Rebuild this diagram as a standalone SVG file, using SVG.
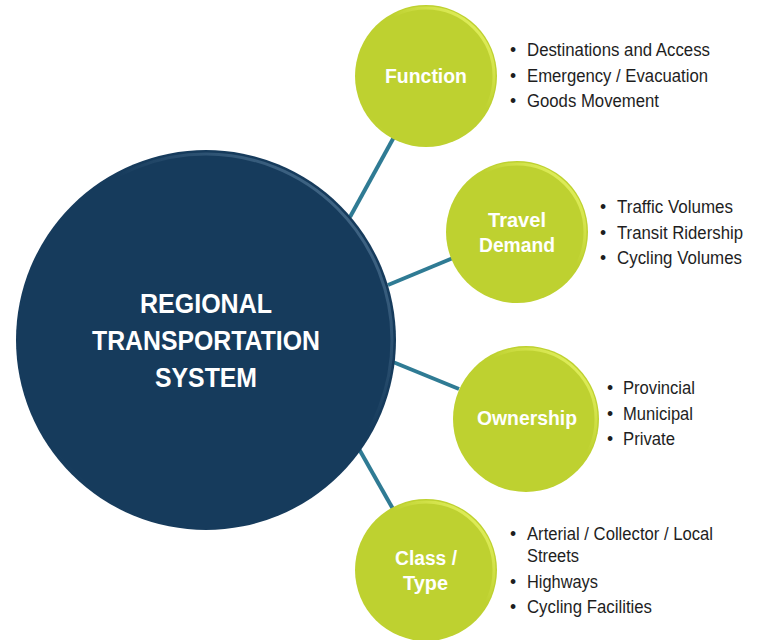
<svg xmlns="http://www.w3.org/2000/svg" width="757" height="640" viewBox="0 0 757 640">
<defs>
<linearGradient id="rimG" x1="1" y1="0" x2="0" y2="1">
<stop offset="0" stop-color="#f4ff74" stop-opacity="0.9"/>
<stop offset="0.4" stop-color="#f4ff74" stop-opacity="0"/>
<stop offset="0.85" stop-color="#f4ff74" stop-opacity="0"/>
<stop offset="1" stop-color="#e8f77a" stop-opacity="0.45"/>
</linearGradient>
<linearGradient id="rimB" x1="1" y1="0" x2="0" y2="1">
<stop offset="0" stop-color="#6a8fae" stop-opacity="0.75"/>
<stop offset="0.4" stop-color="#6a8fae" stop-opacity="0"/>
<stop offset="0.85" stop-color="#6a8fae" stop-opacity="0"/>
<stop offset="1" stop-color="#6a8fae" stop-opacity="0.4"/>
</linearGradient>
</defs>
<style>
.conn{stroke:#2f7b94;stroke-width:4;fill:none;stroke-linecap:butt}
.green{fill:#bed130}
.grim{fill:none;stroke:url(#rimG);stroke-width:3}
.navy{fill:#163b5c}
.nrim{fill:none;stroke:url(#rimB);stroke-width:3}
.lbl{font-family:"Liberation Sans",Arial,sans-serif;font-weight:bold;font-size:20px;fill:#ffffff}
.main{font-family:"Liberation Sans",Arial,sans-serif;font-weight:bold;font-size:27px;fill:#ffffff}
.li{font-family:"Liberation Sans",Arial,sans-serif;font-size:17.5px;fill:#1e1e1e}
</style>
<rect width="757" height="640" fill="#ffffff"/>
<g id="connectors">
<line class="conn" x1="350" y1="217" x2="394" y2="137"/>
<line class="conn" x1="388" y1="285" x2="453" y2="258"/>
<line class="conn" x1="393" y1="362" x2="459" y2="389"/>
<line class="conn" x1="359" y1="449" x2="393" y2="509"/>
</g>
<g id="node-main">
<circle class="navy" cx="206" cy="340" r="190"/>
<circle class="nrim" cx="206" cy="340" r="186"/>
<text class="main" x="140" y="313" textLength="132" lengthAdjust="spacingAndGlyphs">REGIONAL</text>
<text class="main" x="92" y="350" textLength="228" lengthAdjust="spacingAndGlyphs">TRANSPORTATION</text>
<text class="main" x="155" y="387" textLength="102" lengthAdjust="spacingAndGlyphs">SYSTEM</text>
</g>
<g id="node-function">
<circle class="green" cx="426" cy="76" r="71"/>
<circle class="grim" cx="426" cy="76" r="68"/>
<text class="lbl" x="385" y="83" textLength="82" lengthAdjust="spacingAndGlyphs">Function</text>
<text class="li" x="510" y="56">•</text><text class="li" x="527" y="56" textLength="183" lengthAdjust="spacingAndGlyphs">Destinations and Access</text>
<text class="li" x="510" y="82">•</text><text class="li" x="527" y="82" textLength="181" lengthAdjust="spacingAndGlyphs">Emergency / Evacuation</text>
<text class="li" x="510" y="107">•</text><text class="li" x="527" y="107" textLength="132" lengthAdjust="spacingAndGlyphs">Goods Movement</text>
</g>
<g id="node-travel">
<circle class="green" cx="517" cy="232" r="71"/>
<circle class="grim" cx="517" cy="232" r="68"/>
<text class="lbl" x="488" y="227" textLength="58" lengthAdjust="spacingAndGlyphs">Travel</text>
<text class="lbl" x="479" y="252" textLength="76" lengthAdjust="spacingAndGlyphs">Demand</text>
<text class="li" x="600" y="213">•</text><text class="li" x="617" y="213" textLength="116" lengthAdjust="spacingAndGlyphs">Traffic Volumes</text>
<text class="li" x="600" y="239">•</text><text class="li" x="617" y="239" textLength="126" lengthAdjust="spacingAndGlyphs">Transit Ridership</text>
<text class="li" x="600" y="264">•</text><text class="li" x="617" y="264" textLength="125" lengthAdjust="spacingAndGlyphs">Cycling Volumes</text>
</g>
<g id="node-ownership">
<circle class="green" cx="526" cy="419" r="73"/>
<circle class="grim" cx="526" cy="419" r="70"/>
<text class="lbl" x="477" y="425" textLength="100" lengthAdjust="spacingAndGlyphs">Ownership</text>
<text class="li" x="607" y="394">•</text><text class="li" x="623" y="394" textLength="72" lengthAdjust="spacingAndGlyphs">Provincial</text>
<text class="li" x="607" y="420">•</text><text class="li" x="623" y="420" textLength="70" lengthAdjust="spacingAndGlyphs">Municipal</text>
<text class="li" x="607" y="445">•</text><text class="li" x="623" y="445" textLength="52" lengthAdjust="spacingAndGlyphs">Private</text>
</g>
<g id="node-class">
<circle class="green" cx="426" cy="570" r="71"/>
<circle class="grim" cx="426" cy="570" r="68"/>
<text class="lbl" x="395" y="565" textLength="62" lengthAdjust="spacingAndGlyphs">Class /</text>
<text class="lbl" x="403" y="590" textLength="45" lengthAdjust="spacingAndGlyphs">Type</text>
<text class="li" x="510" y="540">•</text><text class="li" x="527" y="540" textLength="186" lengthAdjust="spacingAndGlyphs">Arterial / Collector / Local</text>
<text class="li" x="527" y="562" textLength="52" lengthAdjust="spacingAndGlyphs">Streets</text>
<text class="li" x="510" y="588">•</text><text class="li" x="527" y="588" textLength="71" lengthAdjust="spacingAndGlyphs">Highways</text>
<text class="li" x="510" y="613">•</text><text class="li" x="527" y="613" textLength="125" lengthAdjust="spacingAndGlyphs">Cycling Facilities</text>
</g>
</svg>
